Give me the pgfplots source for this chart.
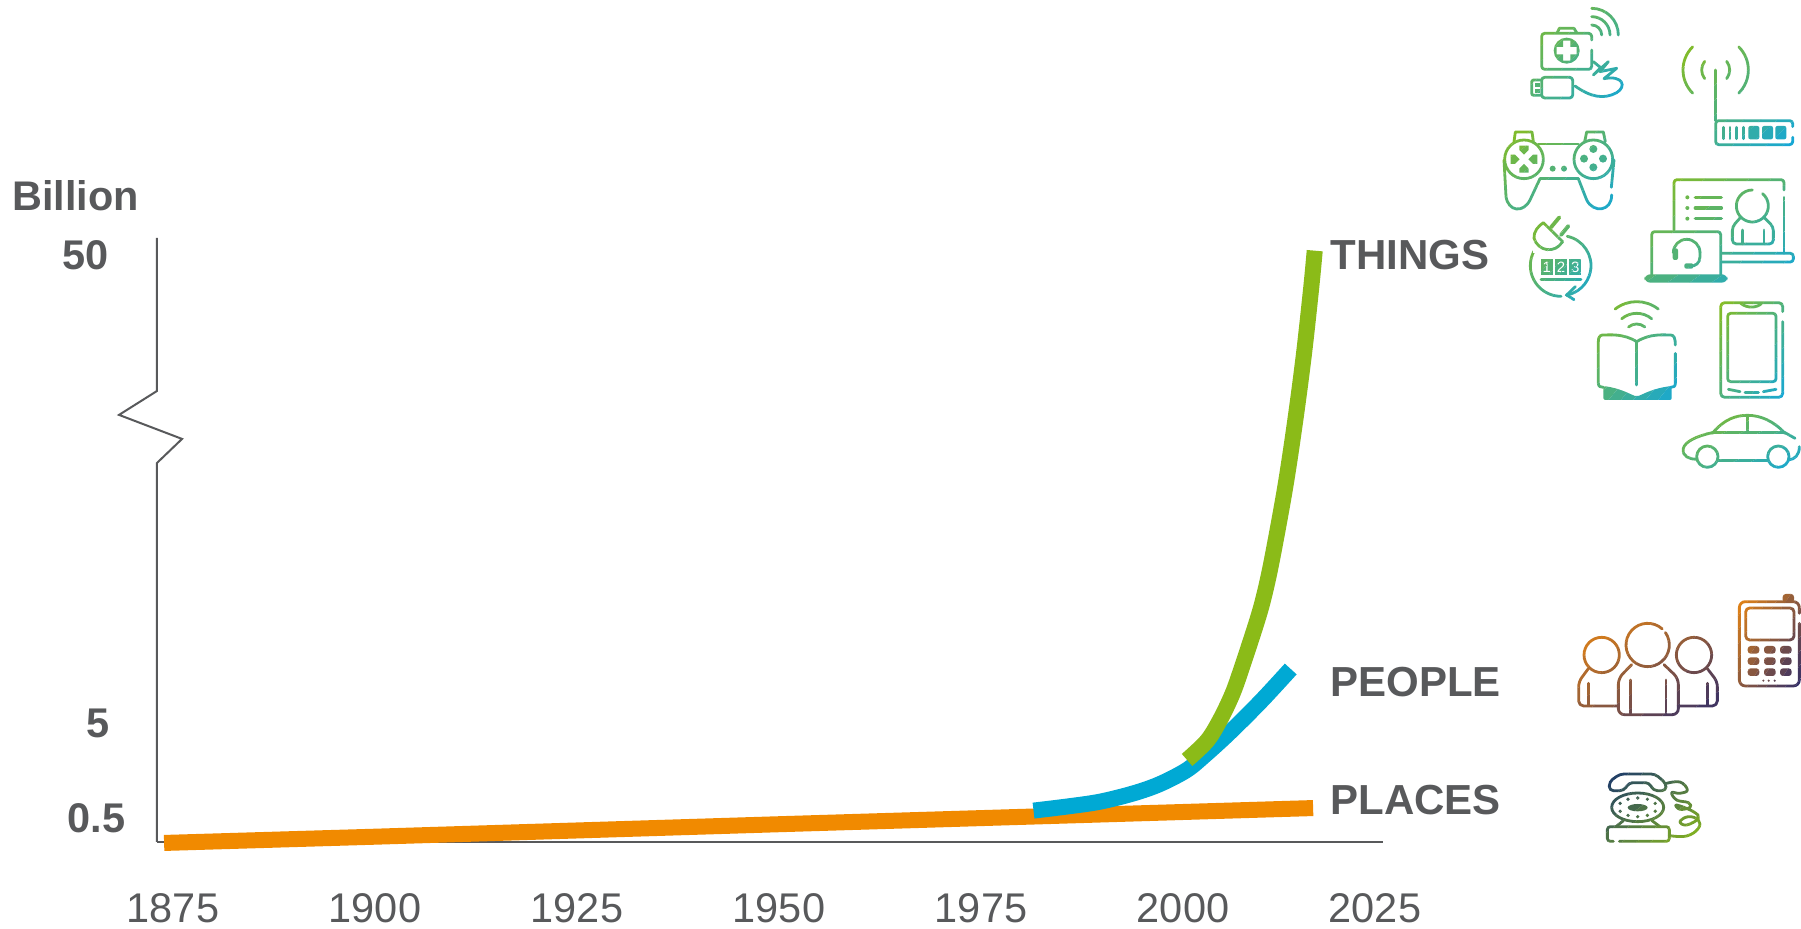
\documentclass[border=0pt]{standalone}
\usepackage{fontspec}
\setmainfont{Liberation Sans}
\usepackage{pgfplots}
\pgfplotsset{compat=1.18}
\definecolor{txt}{HTML}{58595B}
\definecolor{axl}{HTML}{58595B}
\definecolor{gr}{HTML}{8BBB18}
\definecolor{bl}{HTML}{00A9D4}
\definecolor{org}{HTML}{F18A00}
\definecolor{icgr}{HTML}{8CBD1A}
\definecolor{icbl}{HTML}{12A6DC}
\definecolor{icor}{HTML}{F08A10}
\definecolor{icpu}{HTML}{2B2A6B}
\definecolor{icna}{HTML}{17336E}
\newcommand\mkicon[2]{\expandafter\def\csname icon@#1\endcsname{#2}}
% ---- zoom coordinates: page px = ox + x/3, oy + y/3
\mkicon{ikit}{
\draw[rounded corners=1.5pt] (335,120)--(335,100)--(185,100)--(185,208)--(335,208)--(335,150);
\draw (232,98)--(238,85)--(282,85)--(290,98);
\fill[even odd rule] (260,152) circle (39) (249,122)--(271,122)--(271,141)--(290,141)--(290,163)--(271,163)--(271,182)--(249,182)--(249,163)--(230,163)--(230,141)--(249,141)--cycle;
\draw (335,105) ++(-90:80) arc (-90:0:80);
\draw (335,105) ++(-90:55) arc (-90:0:55);
\draw (335,105) ++(-90:30) arc (-90:0:30);
\draw (340,185)--(362,203)--(340,225)--(385,185)--(360,215)--(410,205)--(372,236) .. controls (430,225) and (440,260) .. (410,278) .. controls (370,300) and (330,290) .. (285,258);
\draw[rounded corners=1.5pt] (185,232)--(278,232)--(278,294)--(185,294)--cycle;
\draw[rounded corners=1pt] (185,240)--(155,240)--(155,286)--(185,286);
\fill (165,248) rectangle (180,260);
\fill (165,268) rectangle (180,280);
}
\mkicon{iant}{
\draw (707,210)--(707,362);
\draw (707,210) ++(135:98) arc (135:225:98);
\draw (707,210) ++(142:42) arc (142:218:42);
\draw (707,210) ++(45:98) arc (45:-45:98);
\draw (707,210) ++(38:42) arc (38:-38:42);
\draw[rounded corners=1.5pt] (938,380)--(938,362)--(707,362)--(707,434)--(938,434)--(938,412);
\foreach \x in {730,750,770,790}{\draw (\x,382)--(\x,416);}
\foreach \x in {805,846,886}{\fill[rounded corners=1pt] (\x,378) rectangle (\x+33,418);}
}
\mkicon{ipad}{
\draw (132,478) circle (58);
\draw (340,478) circle (58);
\draw (102,425)--(106,396)--(156,396)--(160,425);
\draw (314,425)--(320,396)--(370,396)--(376,425);
\draw (175,432)--(295,432);
\draw (180,536)--(295,536);
\draw (72,480)--(78,590) .. controls (85,635) and (130,640) .. (150,600) -- (180,536);
\draw (295,536)--(320,600) .. controls (340,640) and (395,635) .. (395,585);
\draw (402,480)--(394,562);
\fill (118,437)--(146,437)--(146,450)--(132,464)--(118,450)--cycle;
\fill (118,518)--(146,518)--(146,506)--(132,492)--(118,506)--cycle;
\fill (92,464)--(92,492)--(105,492)--(119,478)--(105,464)--cycle;
\fill (172,464)--(172,492)--(159,492)--(145,478)--(159,464)--cycle;
\foreach \p in {(340,447),(312,476),(369,476),(340,502)}{\fill \p circle (12);}
\fill (218,506) circle (9);
\fill (252,506) circle (9);
}
\mkicon{iplug}{
\draw (243,797) ++(-125:92) arc (-125:-270:92);
\draw (243,797) ++(-78:90) arc (-78:80:90);
\draw (286,860)--(260,885)--(282,899);
\fill[white] (160,670) rectangle (250,760);
\draw (190,668)--(248,725) .. controls (225,762) and (175,755) .. (162,715) .. controls (160,695) and (175,678) .. (190,668) -- cycle;
\draw[line width=1.9pt] (213,682)--(238,652);
\draw[line width=1.9pt] (243,705)--(265,678);
\fill (183,778) rectangle (218,825);
\fill (226,778) rectangle (260,825);
\fill (268,778) rectangle (303,825);
\node[text=white,inner sep=0,font=\fontsize{7.5}{8}\selectfont] at (200.5,801) {1};
\node[text=white,inner sep=0,font=\fontsize{7.5}{8}\selectfont] at (243,801) {2};
\node[text=white,inner sep=0,font=\fontsize{7.5}{8}\selectfont] at (285.5,801) {3};
\draw (183,838)--(303,838);
}
\mkicon{ilap}{
\draw[rounded corners=1.5pt] (582,690)--(582,539)--(912,539)--(912,570);
\draw (912,592)--(912,760);
\draw[rounded corners=1.5pt] (725,760)--(940,760)--(940,786)--(725,786);
\foreach \y in {592,624,656}{\fill (622,\y) circle (6);\draw[line width=1.7pt] (646,\y)--(724,\y);}
\draw (817,618) ++(-50:48) arc (-50:270:48);
\draw[rounded corners=2pt] (782,652)--(757,680)--(757,732)--(880,732)--(880,680)--(852,652);
\draw (787,690)--(787,728);
\draw (852,690)--(852,728);
\draw[rounded corners=1.5pt] (515,825)--(515,695)--(722,695)--(722,825);
\fill[rounded corners=3pt] (493,823) rectangle (743,848);
\draw (620,758) ++(180:40) arc (180:360:40);
\draw (660,758)--(660,770) .. controls (660,790) and (645,800) .. (630,798);
\fill[rounded corners=1pt] (578,745) rectangle (594,780);
\fill[rounded corners=1pt] (613,790) rectangle (640,806);
}
\mkicon{ibook}{
\draw (470,1010) ++(-128:105) arc (-128:-52:105);
\draw (470,1010) ++(-130:70) arc (-130:-50:70);
\draw (470,1010) ++(-130:38) arc (-130:-50:38);
\draw (470,1025) .. controls (430,1000) and (390,1005) .. (368,1005) .. controls (358,1005) and (355,1015) .. (355,1025) -- (355,1150) .. controls (355,1160) and (362,1162) .. (370,1162);
\draw (470,1025) .. controls (510,1000) and (550,1005) .. (572,1005) .. controls (582,1005) and (586,1015) .. (586,1035);
\draw (586,1060)--(586,1150) .. controls (586,1160) and (580,1162) .. (572,1162);
\draw (470,1025)--(470,1155);
\fill[rounded corners=1pt] (370,1158) .. controls (420,1165) and (445,1180) .. (470,1190) .. controls (495,1180) and (520,1165) .. (575,1158) -- (575,1200) -- (370,1200) -- cycle;
}
\mkicon{itab}{
\draw[rounded corners=2pt] (908,935)--(908,908)--(722,908)--(722,1192)--(908,1192)--(908,965);
\draw (782,910) .. controls (800,925) and (830,925) .. (845,910);
\draw[rounded corners=1.5pt] (743,940) rectangle (888,1145);
\draw (745,1168)--(780,1175);
\draw (795,1177)--(835,1177);
\draw (850,1175)--(888,1168);
}
\mkicon{icar}{
\draw (697,1300) .. controls (735,1255) and (770,1246) .. (803,1246) .. controls (840,1246) and (880,1262) .. (915,1300);
\draw (697,1298)--(915,1298);
\draw (803,1248)--(803,1298);
\draw (915,1298)--(945,1315);
\draw (697,1298) .. controls (650,1308) and (615,1325) .. (610,1345) .. controls (605,1370) and (630,1378) .. (650,1378);
\draw (713,1382)--(862,1382);
\draw (925,1380) .. controls (945,1378) and (958,1365) .. (958,1340);
\draw (682,1370) circle (32);
\draw (895,1370) circle (32);
}
\mkicon{ippl}{
\draw (503,225) ++(-48:65) arc (-48:-310:65);
\draw (503,225) ++(-35:65) arc (-35:50:65);
\draw (365,255) circle (53);
\draw (642,255) circle (53);
\draw[rounded corners=3pt] (455,284)--(415,325)--(415,434)--(595,434)--(595,325)--(552,284);
\draw (452,330)--(452,430);
\draw (558,330)--(558,430);
\draw[rounded corners=2.5pt] (415,408)--(296,408)--(296,335)--(325,296);
\draw (325,340)--(325,405);
\draw[rounded corners=2.5pt] (595,408)--(712,408)--(712,335)--(682,296);
\draw (683,340)--(683,405);
}
\mkicon{imob}{
\draw[rounded corners=3pt] (958,130)--(958,95)--(778,95)--(778,348)--(958,348)--(958,160);
\fill[rounded corners=1.5pt] (908,72) rectangle (942,98);
\draw[rounded corners=2pt] (797,114) rectangle (942,210);
\foreach \x in {803,852,900}{\foreach \y in {228,262,295}{\fill[rounded corners=1.5pt] (\x,\y) rectangle (\x+35,\y+23);}}
\foreach \x in {850,866,884}{\fill (\x,332) circle (3.5);}
}
\mkicon{itel}{
\draw[rounded corners=2pt] (432,662)--(388,662)--(388,635)--(420,612)--(525,612)--(558,640)--(558,662)--(520,662)--(508,638)--(447,638)--cycle;
\draw (473,712) ellipse (78 and 43);
\fill (473,713) ellipse (30 and 11);
\foreach \a in {-155,-120,-90,-60,-25,25,60,90,120,155}{\fill ({473+58*cos(\a)},{712+28*sin(\a)}) circle (5.5);}
\draw (430,752)--(408,770);
\draw (516,752)--(540,770);
\draw[rounded corners=1.5pt] (400,814)--(382,814)--(382,770)--(568,770)--(568,814)--(418,814);
\draw plot[smooth,tension=0.7] coordinates {(560,640) (600,636) (622,660) (600,670) (575,668) (590,690) (625,698) (630,712) (600,718) (590,705) (640,725) (655,745) (620,765) (600,755) (625,740) (655,750) (655,775) (620,798) (568,797)};
}
% name, bbox x0 y0 x1 y1, offset ox oy, colour start, colour end: diagonal bands clip the strokes
\newcommand\icon[9]{%
\begin{scope}[shift={(#6,#7)},x=0.16667pt,y=-0.16667pt]
\foreach \k in {0,...,13}{%
\pgfmathsetmacro\aa{2*\k/14}%
\pgfmathsetmacro\bb{2*(\k+1)/14}%
\pgfmathtruncatemacro\mm{100*(\k+0.5)/14}%
\colorlet{cc}{#9!\mm!#8}%
\begin{scope}
\clip ({#2-(#4-#2)},{#3+(\aa+1)*(#5-#3)})--({#2+3*(#4-#2)},{#3+(\aa-3)*(#5-#3)})--({#2+3*(#4-#2)},{#3+(\bb-3)*(#5-#3)})--({#2-(#4-#2)},{#3+(\bb+1)*(#5-#3)})--cycle;
\begin{scope}[color=cc,line width=1.4pt,line cap=round,line join=round]
\csname icon@#1\endcsname
\end{scope}
\end{scope}}
\end{scope}}
\begin{document}
\begin{tikzpicture}
\useasboundingbox (0,0) rectangle (900.5pt,464.5pt);
\begin{axis}[
  at={(78.5pt,43.5pt)},anchor=south west,
  scale only axis,width=613pt,height=302pt,
  clip=false,
  xmin=1873.02,xmax=2024.75,ymin=0,ymax=51.63,
  y coord trafo/.code={\pgfmathparse{#1<=0.5 ? 48*#1 : (#1<=5 ? 24+21.11*(#1-0.5) : 119+10.4*(#1-5))}},
  axis x line=bottom,axis y line=left,
  x axis line style={-,draw=axl,line width=1pt},
  y axis line style={draw=none},
  major tick length=0pt,minor tick num=0,
  xtick={1875,1900,1925,1950,1975,2000,2023.76},
  xticklabels={1875,1900,1925,1950,1975,2000,2025},
  ytick={0.5,5,50},
  yticklabels={\textbf{0.5},\mbox{\textbf{5}\kern8pt},\mbox{\textbf{50}\kern8.5pt}},
  tick label style={text=txt,font=\fontsize{20.75}{24}\selectfont,inner sep=0pt},
  xticklabel style={anchor=north,yshift=-25.5pt},
  yticklabel style={anchor=east,xshift=-15.5pt},
]
\addplot[draw=axl,line width=1pt,line join=miter] coordinates {(1873.02,0) (1873.02,30.0) (1876.12,32.31) (1868.32,34.62) (1873.02,36.92) (1873.02,51.63)};
\addplot[draw=org,line width=8pt] coordinates {(1873.9,-0.02) (1900,0.11) (1950,0.37) (1975.5,0.5) (2016.1,0.97)};
\addplot[draw=bl,line width=8pt,smooth,tension=0.55] coordinates {(1981.5,0.85) (1985.6,1.04) (1989.7,1.27) (1993.9,1.67) (1997.15,2.11) (2000.46,2.77) (2002.72,3.48) (2005.2,4.34) (2007.67,5.53) (2010.15,7.5) (2013.33,10.19)};
\addplot[draw=gr,line width=8pt,smooth,tension=0.55] coordinates {(2000.50,3.25) (2002.97,4.15) (2004.58,5.29) (2006.06,7.69) (2007.14,10.0) (2009.20,14.90) (2010.15,17.6) (2011.10,21.06) (2012.66,27.72) (2013.90,34.13) (2014.98,40.55) (2015.88,46.95) (2016.30,50.41)};
\end{axis}
\begin{scope}[shift={(0,464.5pt)},x=0.5pt,y=-0.5pt]
\tikzset{lab/.style={anchor=west,inner sep=0pt,text=txt,font=\fontsize{21}{24}\selectfont\bfseries}}
\node[lab,font=\fontsize{20.7}{24}\selectfont\bfseries] at (12,196) {Billion};
\node[lab] at (1330,255) {THINGS};
\node[lab] at (1330,682) {PEOPLE};
\node[lab] at (1330,800) {PLACES};
\icon{ikit}{140}{10}{445}{310}{1480}{0}{icgr}{icbl}
\icon{iant}{595}{125}{950}{445}{1480}{0}{icgr}{icbl}
\icon{ipad}{60}{385}{415}{640}{1480}{0}{icgr}{icbl}
\icon{iplug}{140}{640}{350}{910}{1480}{0}{icgr}{icbl}
\icon{ilap}{485}{530}{950}{855}{1480}{0}{icgr}{icbl}
\icon{ibook}{340}{895}{600}{1210}{1480}{0}{icgr}{icbl}
\icon{itab}{710}{895}{920}{1205}{1480}{0}{icgr}{icbl}
\icon{icar}{600}{1235}{968}{1412}{1480}{0}{icgr}{icbl}
\icon{ippl}{285}{148}{722}{445}{1480}{570}{icor}{icpu}
\icon{imob}{768}{62}{968}{358}{1480}{570}{icor}{icpu}
\icon{itel}{372}{602}{668}{825}{1480}{570}{icna}{icgr}
\end{scope}
\end{tikzpicture}
\end{document}
